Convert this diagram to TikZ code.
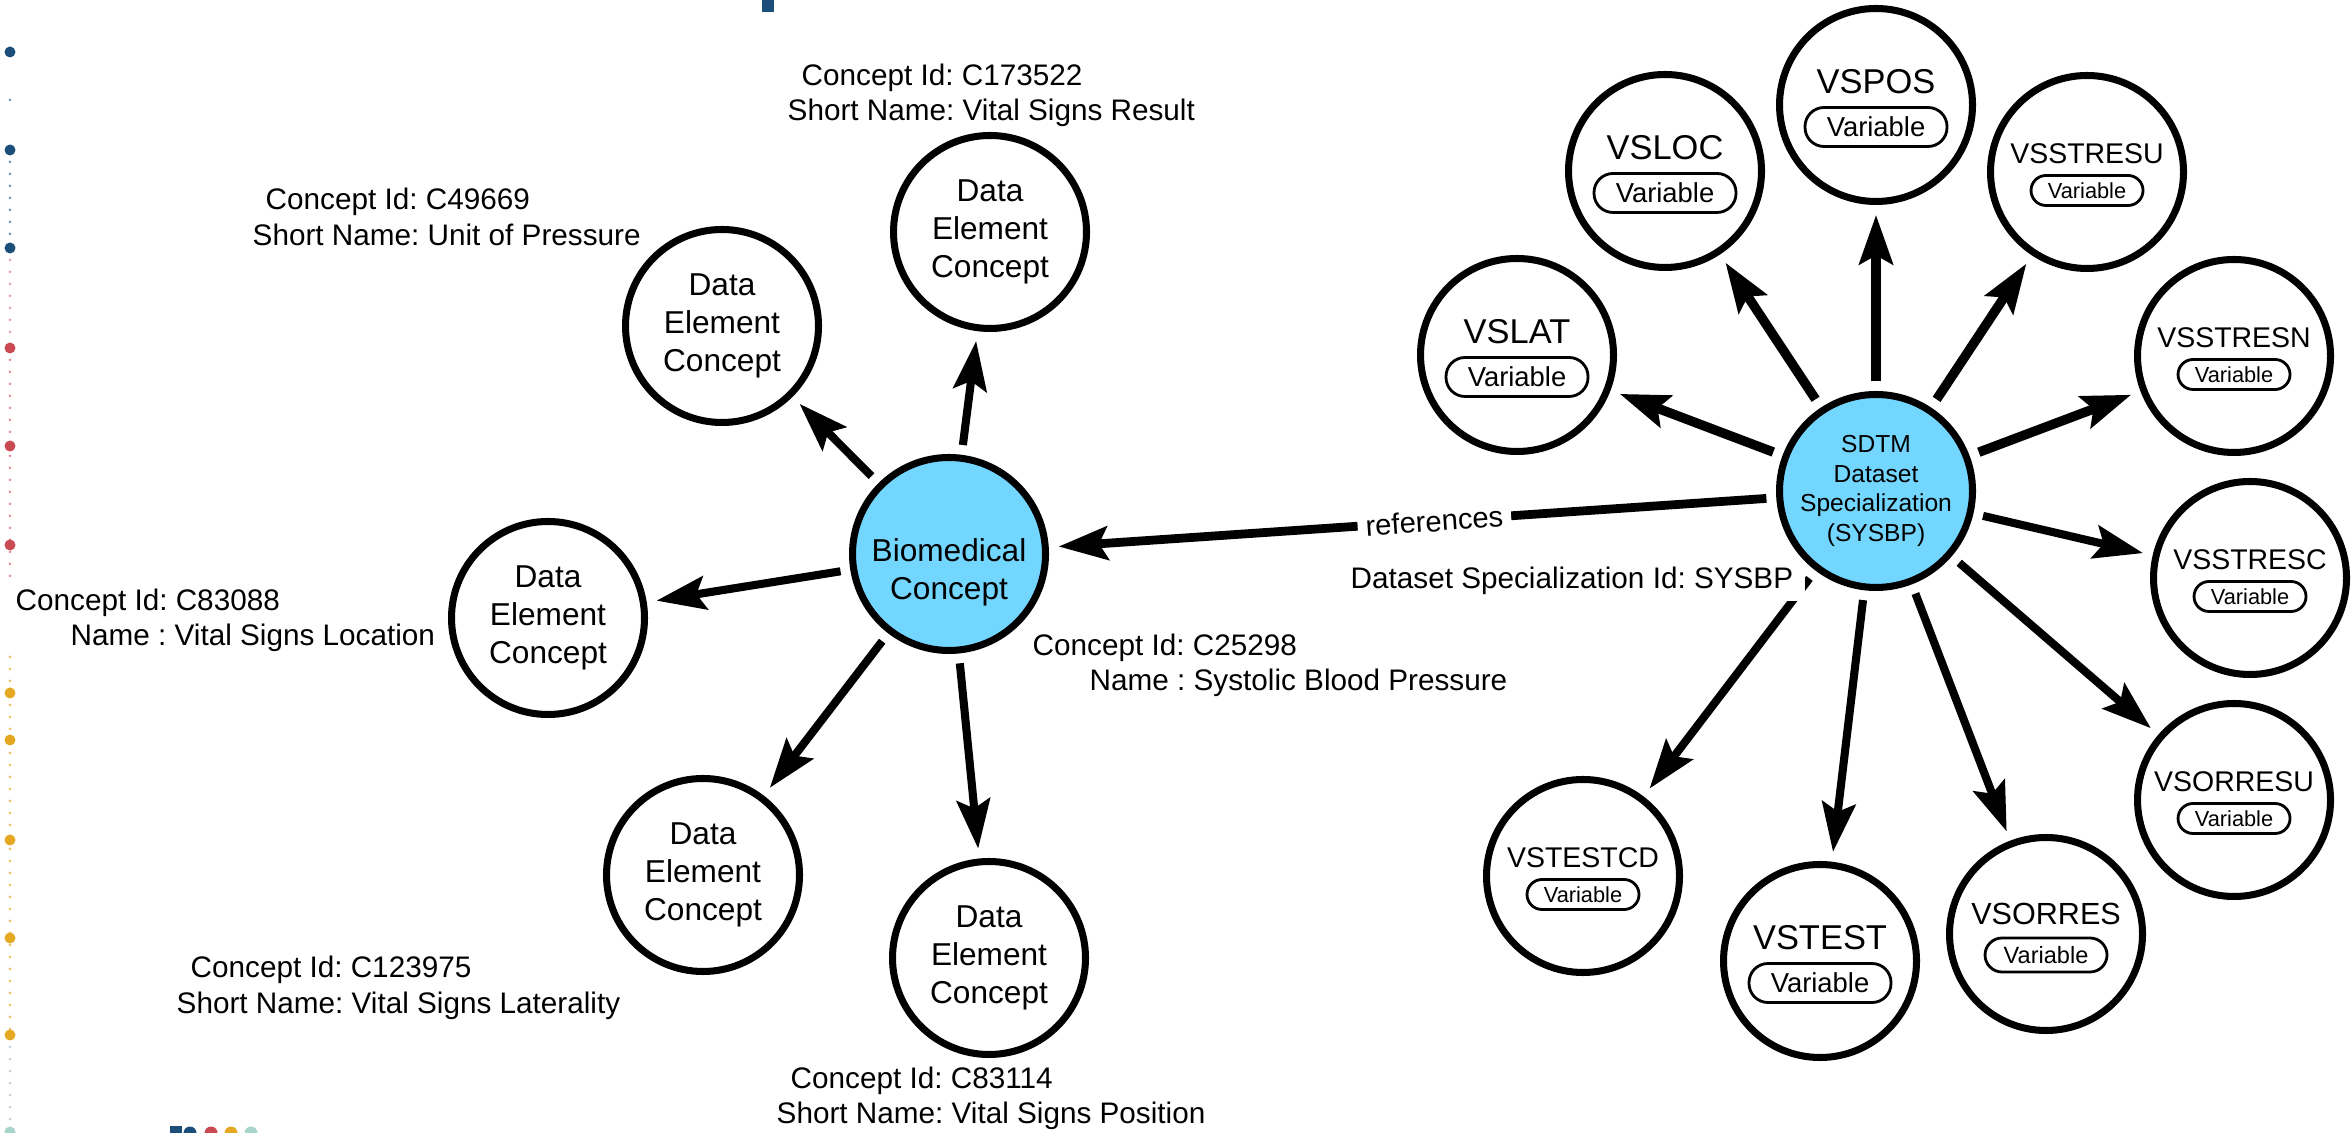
\documentclass[tikz,border=0pt]{standalone}
\usepackage{fontspec}
\setmainfont{Liberation Sans}
\usetikzlibrary{arrows.meta}
\frenchspacing

\definecolor{hubblue}{RGB}{115,214,255}
\definecolor{dotblue}{RGB}{27,79,122}
\definecolor{dotred}{RGB}{201,74,82}
\definecolor{dotgold}{RGB}{229,168,35}
\definecolor{dotteal}{RGB}{168,213,203}

\tikzset{
  concept/.style={circle, draw, line width=2pt, minimum size=1.93cm, inner sep=0pt, fill=white, align=center, font=\fontsize{9}{10.9}\selectfont},
  hub/.style={concept, fill=hubblue},
  varnode/.style={concept},
  hubtext/.style={align=center, inner sep=0pt, font=\fontsize{9}{10.9}\selectfont},
  bigname/.style={inner sep=0pt, font=\fontsize{9.8}{10}\selectfont},
  midname/.style={inner sep=0pt, font=\fontsize{8.7}{9}\selectfont},
  smallname/.style={inner sep=0pt, font=\fontsize{8.1}{9}\selectfont},
  bigpill/.style={draw, line width=0.8pt, rounded corners=0.19cm, minimum width=1.42cm, minimum height=0.39cm, inner sep=0pt, font=\fontsize{7.8}{8}\selectfont},
  midpill/.style={bigpill, rounded corners=0.17cm, minimum width=1.22cm, minimum height=0.34cm, font=\fontsize{6.7}{7}\selectfont},
  smallpill/.style={bigpill, rounded corners=0.15cm, minimum width=1.12cm, minimum height=0.30cm, font=\fontsize{6.2}{7}\selectfont},
  link/.style={-{Stealth[length=14pt,width=9.5pt,inset=2.5pt]}, line width=2.3pt, shorten <=2.8pt, shorten >=2.8pt},
  boldlink/.style={link, line width=2.7pt},
  info/.style={anchor=west, align=left, inner sep=0pt, font=\fontsize{8.45}{10.1}\selectfont},
}

\begin{document}
\begin{tikzpicture}
\useasboundingbox (0,0) rectangle (23.51,11.32);
\clip (0,0) rectangle (23.51,11.32);

\fill[dotblue] (7.62,11.20) rectangle (7.74,11.32);
\fill[dotblue!60] (0.10,10.32) circle (0.015);
\foreach \y in {9.70,9.58,...,8.90} \fill[dotblue!60] (0.10,\y) circle (0.015);
\foreach \y in {8.72,8.60,...,7.90} \fill[dotred!50] (0.10,\y) circle (0.015);
\foreach \y in {7.72,7.60,...,5.50} \fill[dotred!60] (0.10,\y) circle (0.015);
\foreach \y in {4.75,4.63,...,1.00} \fill[dotgold!70] (0.10,\y) circle (0.015);
\foreach \y in {0.85,0.73,...,0.05} \fill[dotblue!25] (0.10,\y) circle (0.015);
\foreach \y in {10.80,9.82,8.84} \fill[dotblue] (0.10,\y) circle (0.055);
\foreach \y in {7.84,6.86,5.87} \fill[dotred] (0.10,\y) circle (0.055);
\foreach \y in {4.39,3.92,2.92,1.94,0.97} \fill[dotgold] (0.10,\y) circle (0.055);
\fill[dotteal] (0.10,0.00) circle (0.055);
\fill[dotblue] (1.70,0.06) rectangle (1.82,-0.10);
\fill[dotblue] (1.90,-0.01) circle (0.065);
\fill[dotred] (2.11,-0.01) circle (0.065);
\fill[dotgold] (2.31,-0.01) circle (0.065);
\fill[dotteal] (2.51,-0.01) circle (0.065);

\node[hub] (bc) at (9.49,5.78) {};
\node[hubtext] (bc-text) at (9.49,5.60) {Biomedical\\Concept};
\node[concept] (dec1) at (9.90,9.00) {Data\\Element\\Concept};
\node[concept] (dec2) at (7.22,8.06) {Data\\Element\\Concept};
\node[concept] (dec3) at (5.48,5.14) {Data\\Element\\Concept};
\node[concept] (dec4) at (7.03,2.57) {Data\\Element\\Concept};
\node[concept] (dec5) at (9.89,1.74) {Data\\Element\\Concept};

\node[hub, font=\fontsize{7}{8.5}\selectfont] (sdtm) at (18.76,6.41) {SDTM\\Dataset\\Specialization\\(SYSBP)};

\node[varnode] (vspos) at (18.76,10.27) {};
\node[bigname] (vspos-name) at ([yshift=0.235cm]vspos.center) {VSPOS};
\node[bigpill] (vspos-tag) at ([yshift=-0.22cm]vspos.center) {Variable};
\node[varnode] (vsloc) at (16.65,9.61) {};
\node[bigname] (vsloc-name) at ([yshift=0.235cm]vsloc.center) {VSLOC};
\node[bigpill] (vsloc-tag) at ([yshift=-0.22cm]vsloc.center) {Variable};
\node[varnode] (vslat) at (15.17,7.77) {};
\node[bigname] (vslat-name) at ([yshift=0.235cm]vslat.center) {VSLAT};
\node[bigpill] (vslat-tag) at ([yshift=-0.22cm]vslat.center) {Variable};
\node[varnode] (vsstresu) at (20.87,9.60) {};
\node[smallname] (vsstresu-name) at ([yshift=0.18cm]vsstresu.center) {VSSTRESU};
\node[smallpill] (vsstresu-tag) at ([yshift=-0.185cm]vsstresu.center) {Variable};
\node[varnode] (vsstresn) at (22.34,7.76) {};
\node[smallname] (vsstresn-name) at ([yshift=0.18cm]vsstresn.center) {VSSTRESN};
\node[smallpill] (vsstresn-tag) at ([yshift=-0.185cm]vsstresn.center) {Variable};
\node[varnode] (vsstresc) at (22.50,5.54) {};
\node[smallname] (vsstresc-name) at ([yshift=0.18cm]vsstresc.center) {VSSTRESC};
\node[smallpill] (vsstresc-tag) at ([yshift=-0.185cm]vsstresc.center) {Variable};
\node[varnode] (vsorresu) at (22.34,3.32) {};
\node[smallname] (vsorresu-name) at ([yshift=0.18cm]vsorresu.center) {VSORRESU};
\node[smallpill] (vsorresu-tag) at ([yshift=-0.185cm]vsorresu.center) {Variable};
\node[varnode] (vsorres) at (20.46,1.98) {};
\node[midname] (vsorres-name) at ([yshift=0.20cm]vsorres.center) {VSORRES};
\node[midpill] (vsorres-tag) at ([yshift=-0.21cm]vsorres.center) {Variable};
\node[varnode] (vstest) at (18.20,1.71) {};
\node[bigname] (vstest-name) at ([yshift=0.235cm]vstest.center) {VSTEST};
\node[bigpill] (vstest-tag) at ([yshift=-0.22cm]vstest.center) {Variable};
\node[varnode] (vstestcd) at (15.83,2.56) {};
\node[smallname] (vstestcd-name) at ([yshift=0.18cm]vstestcd.center) {VSTESTCD};
\node[smallpill] (vstestcd-tag) at ([yshift=-0.185cm]vstestcd.center) {Variable};

\draw[link] (bc) -- (dec1);
\draw[link] (bc) -- (dec2);
\draw[link] (bc) -- (dec3);
\draw[link] (bc) -- (dec4);
\draw[link] (bc) -- (dec5);

\draw[link, line width=2.5pt] (sdtm) -- node[pos=0.47, sloped, fill=white, inner xsep=0.08cm, inner ysep=0.05cm, font=\fontsize{8.3}{9}\selectfont] (refs) {references} (bc);

\draw[boldlink] (sdtm) -- (vslat);
\draw[boldlink] (sdtm) -- (vsloc);
\draw[boldlink] (sdtm) -- (vspos);
\draw[boldlink] (sdtm) -- (vsstresu);
\draw[boldlink] (sdtm) -- (vsstresn);
\draw[link] (sdtm) -- (vsstresc);
\draw[link] (sdtm) -- (vsorresu);
\draw[link] (sdtm) -- (vsorres);
\draw[link] (sdtm) -- (vstest);
\draw[link] (sdtm) -- (vstestcd);

\node[info] (lbl-result) at (7.87,10.365) {\hspace*{0.14cm}Concept Id: C173522\\Short Name: Vital Signs Result};
\node[info] (lbl-unit) at (2.52,9.15) {\hspace*{0.13cm}Concept Id: C49669\\Short Name: Unit of Pressure};
\node[info, fill=white] (lbl-location) at (0.15,5.115) {Concept Id: C83088\\\hspace*{0.55cm}Name : Vital Signs Location};
\node[info] (lbl-bc) at (10.32,4.665) {Concept Id: C25298\\\hspace*{0.57cm}Name : Systolic Blood Pressure};
\node[info] (lbl-laterality) at (1.76,1.44) {\hspace*{0.14cm}Concept Id: C123975\\Short Name: Vital Signs Laterality};
\node[info] (lbl-position) at (7.76,0.335) {\hspace*{0.14cm}Concept Id: C83114\\Short Name: Vital Signs Position};
\node[info, fill=white, inner xsep=0.12cm, inner ysep=0.06cm] (lbl-dataset) at (13.38,5.51) {Dataset Specialization Id: SYSBP};
\end{tikzpicture}
\end{document}
